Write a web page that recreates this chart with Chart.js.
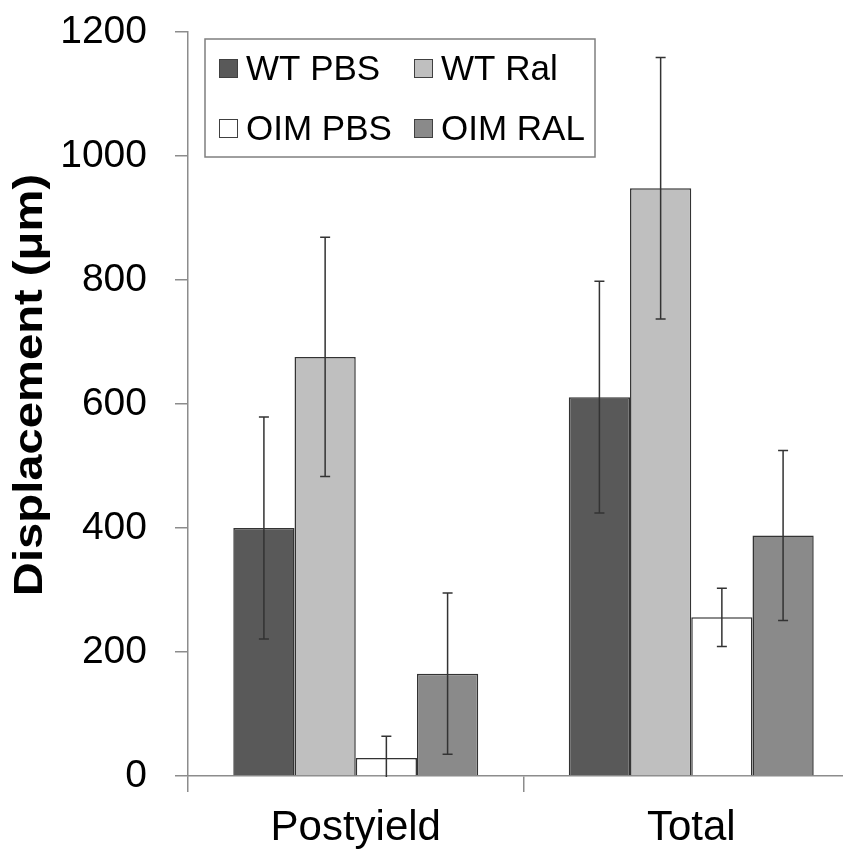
<!DOCTYPE html>
<html>
<head>
<meta charset="utf-8">
<script src="https://cdn.jsdelivr.net/npm/chart.js@4/dist/chart.umd.min.js"></script>
<style>
  html, body { margin: 0; padding: 0; background: #fff; overflow: hidden; }
  #wrap { width: 843px; height: 850px; overflow: hidden; }
</style>
</head>
<body>
<div id="wrap"><canvas id="chart" width="859" height="850"></canvas></div>
<script>
//categories and series
const categories = ["Postyield", "Total"];
const seriesNames = ["WT PBS", "WT Ral", "OIM PBS", "OIM RAL"];
const wtPbs = [400, 611];
const wtRal = [676, 948];
const oimPbs = [29, 256];
const oimRal = [165, 388];
//error bar half-lengths (+/-)
const wtPbsErr = [179, 187];
const wtRalErr = [193, 211];
const oimPbsErr = [35, 47];
const oimRalErr = [130, 137];
//y axis
const yMin = 0;
const yMax = 1200;
const yStep = 200;
const yTitle = "Displacement (\u03bcm)";

const barColors = ["#595959", "#bfbfbf", "#ffffff", "#8a8a8a"];
const values = [wtPbs, wtRal, oimPbs, oimRal];
const errors = [wtPbsErr, wtRalErr, oimPbsErr, oimRalErr];

//draws the error bars from the bar elements
const errorBars = {
  id: "errorBars",
  afterDatasetsDraw(chart) {
    const ctx = chart.ctx;
    const y = chart.scales.y;
    const area = chart.chartArea;
    ctx.save();
    ctx.beginPath();
    ctx.rect(area.left, area.top, area.right - area.left, area.bottom - area.top + 1);
    ctx.clip();
    ctx.strokeStyle = "#333333";
    ctx.lineWidth = 1.5;
    chart.data.datasets.forEach((ds, i) => {
      chart.getDatasetMeta(i).data.forEach((bar, j) => {
        const v = ds.data[j];
        const e = errors[i][j];
        const top = y.getPixelForValue(v + e);
        const bot = y.getPixelForValue(v - e);
        ctx.beginPath();
        ctx.moveTo(bar.x, top);
        ctx.lineTo(bar.x, bot);
        ctx.moveTo(bar.x - 5, top);
        ctx.lineTo(bar.x + 5, top);
        ctx.moveTo(bar.x - 5, bot);
        ctx.lineTo(bar.x + 5, bot);
        ctx.stroke();
      });
    });
    ctx.restore();
  }
};

//boxed 2x2 legend and the rotated axis title
const boxLegend = {
  id: "boxLegend",
  afterDraw(chart) {
    const ctx = chart.ctx;
    const a = chart.chartArea;
    const bx = a.left + 17, by = a.top + 7, bw = 390, bh = 118;
    ctx.save();
    ctx.fillStyle = "#ffffff";
    ctx.fillRect(bx, by, bw, bh);
    ctx.strokeStyle = "#7f7f7f";
    ctx.lineWidth = 1.5;
    ctx.strokeRect(bx, by, bw, bh);
    ctx.font = "35px 'Liberation Sans', Arial, sans-serif";
    ctx.textBaseline = "middle";
    chart.data.datasets.forEach((ds, i) => {
      const col = i % 2, row = Math.floor(i / 2);
      const sx = bx + 14 + col * 195;
      const sy = by + 29 + row * 60;
      ctx.fillStyle = ds.backgroundColor;
      ctx.fillRect(sx, sy - 9, 19, 19);
      ctx.strokeStyle = "#404040";
      ctx.lineWidth = 1;
      ctx.strokeRect(sx + 0.5, sy - 8.5, 18, 18);
      ctx.fillStyle = "#000000";
      ctx.fillText(ds.label, sx + 27, sy + 2);
    });
    ctx.translate(31, 385);
    ctx.rotate(-Math.PI / 2);
    ctx.scale(1.18, 1);
    ctx.textAlign = "center";
    ctx.font = "bold 40px 'Liberation Sans', Arial, sans-serif";
    ctx.fillStyle = "#000000";
    ctx.fillText(yTitle, 0, 0);
    ctx.restore();
  }
};

new Chart(document.getElementById("chart"), {
  type: "bar",
  plugins: [errorBars, boxLegend],
  data: {
    labels: categories,
    datasets: seriesNames.map((name, i) => ({
      label: name,
      data: values[i],
      backgroundColor: barColors[i],
      borderColor: "#333333",
      borderWidth: 1.5,
      borderSkipped: "bottom",
      categoryPercentage: 0.73,
      barPercentage: 1.0,
    })),
  },
  options: {
    responsive: false,
    animation: false,
    layout: { padding: { top: 32, right: 0, left: 0, bottom: 0 } },
    plugins: {
      legend: { display: false },
      tooltip: { enabled: false },
    },
    scales: {
      x: {
        afterFit: (s) => { s.height = 74; s.paddingLeft = 0; s.paddingRight = 0; },
        grid: {
          offset: true,
          drawOnChartArea: false,
          tickLength: 16,
          color: "#8c8c8c",
          lineWidth: 1.5,
        },
        border: { color: "#8c8c8c", width: 1.5 },
        ticks: {
          color: "#000000",
          padding: 11,
          font: { family: "'Liberation Sans', Arial, sans-serif", size: 42 },
        },
      },
      y: {
        min: yMin,
        max: yMax,
        afterFit: (s) => { s.width = 188; s.paddingTop = 0; s.paddingBottom = 0; },
        grid: {
          drawOnChartArea: false,
          tickLength: 13,
          color: "#8c8c8c",
          lineWidth: 1.5,
        },
        border: { color: "#8c8c8c", width: 1.5 },
        ticks: {
          stepSize: yStep,
          color: "#000000",
          padding: 28,
          callback: (v) => String(v),
          font: { family: "'Liberation Sans', Arial, sans-serif", size: 39 },
        },
      },
    },
  },
});
</script>
</body>
</html>
